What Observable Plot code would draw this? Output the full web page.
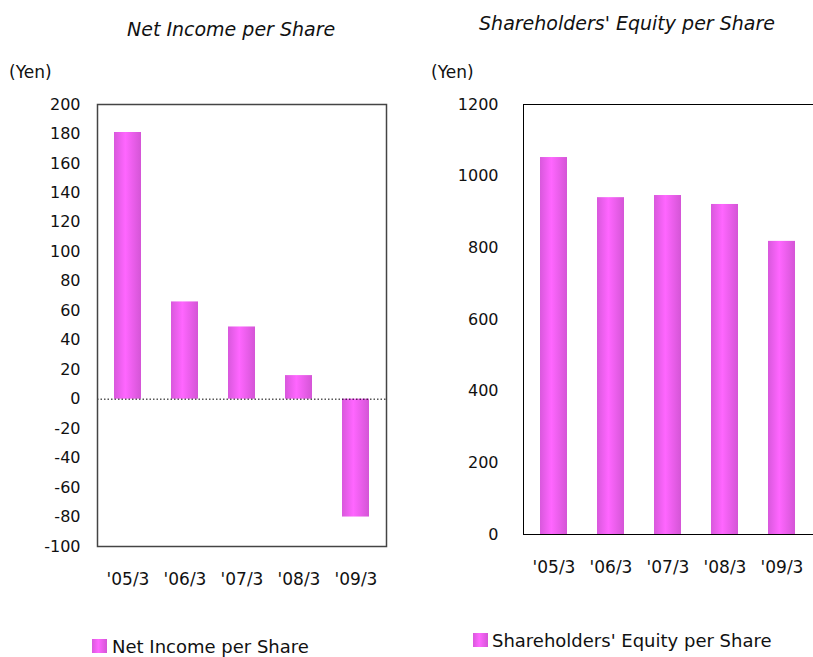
<!DOCTYPE html>
<html><head><meta charset="utf-8">
<script src="https://cdn.jsdelivr.net/npm/d3@7"></script>
<script src="https://cdn.jsdelivr.net/npm/@observablehq/plot@0.6"></script>
<style>
body{margin:0;background:#fff;overflow:hidden;}
#page{position:relative;width:813px;height:657px;overflow:hidden;font-family:"DejaVu Sans",sans-serif;color:#111;}
.abs{position:absolute;white-space:nowrap;line-height:1;}
.title{font-style:italic;font-size:19px;text-align:center;}
.yen{font-family:"DejaVu Sans",sans-serif;font-size:17px;}
.leg{font-size:18px;}
.sw{position:absolute;width:15px;height:14px;background:linear-gradient(to right,#d858dc,#ff66ff 42%,#d455d6);}
</style></head><body>
<svg width="0" height="0" style="position:absolute"><defs>
<linearGradient id="barGrad" x1="0" x2="1" y1="0" y2="0">
<stop offset="0" stop-color="#d858dc"/><stop offset="0.42" stop-color="#ff66ff"/><stop offset="1" stop-color="#d455d6"/>
</linearGradient></defs></svg>
<div id="page">
  <div id="left" class="abs" style="left:0;top:0;width:400px;"></div>
  <div id="right" class="abs" style="left:400px;top:0;width:420px;"></div>
  <div class="abs title" style="left:127px;width:200px;top:20px;">Net Income per Share</div>
  <div class="abs title" style="left:477px;width:300px;top:14px;">Shareholders' Equity per Share</div>
  <div class="abs yen" style="left:9px;top:64px;">(Yen)</div>
  <div class="abs yen" style="left:431px;top:64px;">(Yen)</div>
  <div class="sw" style="left:92px;top:639px;"></div>
  <div class="abs leg" style="left:112px;top:638px;">Net Income per Share</div>
  <div class="sw" style="left:473px;top:633px;"></div>
  <div class="abs leg" style="left:492px;top:632px;">Shareholders' Equity per Share</div>
</div>
<script>
const periods = ["'05/3", "'06/3", "'07/3", "'08/3", "'09/3"];
const netIncome = [181, 66, 49, 16, -80];
const equity = [1052, 940, 946, 921, 818];
const netTicks = [-100, -80, -60, -40, -20, 0, 20, 40, 60, 80, 100, 120, 140, 160, 180, 200];
const equityTicks = [0, 200, 400, 600, 800, 1000, 1200];

const netData = periods.map((p, i) => ({period: p, value: netIncome[i]}));
const eqData = periods.map((p, i) => ({period: p, value: equity[i]}));

const baseStyle = {fontFamily: "DejaVu Sans", fontSize: "16px", color: "#111", background: "transparent", overflow: "visible", maxWidth: "none"};
const plain = d => String(d);

const left = Plot.plot({
  width: 400, height: 600,
  marginLeft: 97, marginRight: 14, marginTop: 104, marginBottom: 54,
  style: baseStyle,
  x: {domain: periods, paddingInner: 0.53, paddingOuter: 0.265},
  y: {domain: [-100, 200]},
  marks: [
    Plot.barY(netData, {x: "period", y: "value", fill: "url(#barGrad)"}),
    Plot.ruleY([0], {stroke: "#000", strokeDasharray: "1.5,2"}),
    Plot.frame({stroke: "#444", strokeWidth: 1.5}),
    Plot.axisY({ticks: netTicks, tickFormat: plain, tickSize: 0, tickPadding: 17, fontSize: 16, label: null}),
    Plot.axisX({tickSize: 0, tickPadding: 26, fontSize: 17, label: null})
  ]
});
document.getElementById("left").append(left);

const right = Plot.plot({
  width: 420, height: 600,
  marginLeft: 123, marginRight: 0, marginTop: 104, marginBottom: 66,
  style: baseStyle,
  x: {domain: periods, range: [123, 412], paddingInner: 0.53, paddingOuter: 0.265},
  y: {domain: [0, 1200]},
  marks: [
    Plot.barY(eqData, {x: "period", y: "value", fill: "url(#barGrad)"}),
    Plot.frame({stroke: "#000", strokeWidth: 1}),
    Plot.axisY({ticks: equityTicks, tickFormat: plain, tickSize: 0, tickPadding: 25, fontSize: 16, label: null}),
    Plot.axisX({tickSize: 0, tickPadding: 26, fontSize: 17, label: null})
  ]
});
document.getElementById("right").append(right);
</script>
</body></html>
